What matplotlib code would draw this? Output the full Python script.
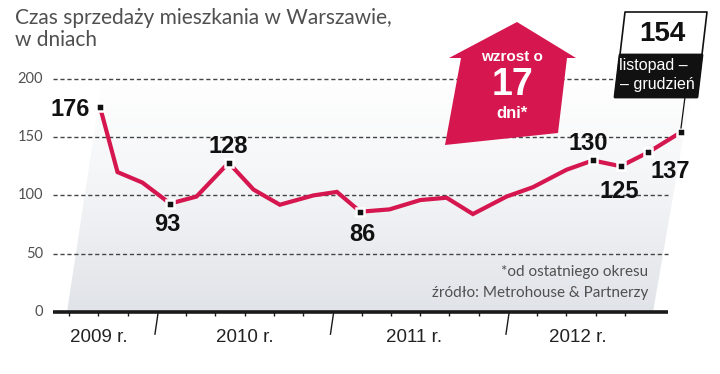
import numpy as np
import matplotlib
matplotlib.use("Agg")
import matplotlib.pyplot as plt
from matplotlib.patches import Polygon
from matplotlib.colors import LinearSegmentedColormap
from matplotlib.transforms import blended_transform_factory

# x = months counted from Jan 2009 (0 = Jan 2009), y = days on sale
months = [8.1, 9.3, 11.0, 12.9, 14.7, 16.9, 18.6, 20.4, 22.7, 24.3, 25.9, 27.9,
          30.0, 31.8, 33.6, 35.9, 37.7, 40.0, 41.8, 43.7, 45.6, 47.8]
days = [176, 120, 111, 93, 99, 128, 105, 92, 100, 103, 86, 88,
        96, 98, 84, 99, 107, 122, 130, 125, 137, 154]
marked = [0, 3, 5, 10, 18, 19, 20, 21]
yticks = [0, 50, 100, 150, 200]
year_starts = [12, 24, 36]
years = ["2009 r.", "2010 r.", "2011 r.", "2012 r."]
year_label_x = [8.0, 18.0, 29.6, 40.8]
small_ticks = [6, 8, 10, 14, 16, 18, 20, 22, 26, 28, 30, 32, 34, 38, 40, 42, 44]

title = "Czas sprzedaży mieszkania w Warszawie,\nw dniach"
note = "*od ostatniego okresu"
source = "źródło: Metrohouse & Partnerzy"

RED = "#d5164f"
INK = "#111111"

NUM = dict(family=["Liberation Sans", "DejaVu Sans"])
LIGHT = dict(family=["Lato", "DejaVu Sans"], color="#505050")

fig = plt.figure(figsize=(7.2, 3.74), dpi=100)
fig.patch.set_facecolor("white")

# background layer in pixel coordinates
bg = fig.add_axes([0, 0, 1, 1], zorder=0)
bg.set_xlim(0, 720)
bg.set_ylim(374, 0)
bg.axis("off")

# data layer
ax = fig.add_axes([0, 0, 1, 1], zorder=1)
ax.patch.set_alpha(0)
x0 = 12 - 157 / 14.625
ax.set_xlim(x0, x0 + 720 / 14.625)
y1 = 312 / 1.166
ax.set_ylim(y1 - 374 / 1.166, y1)
ax.axis("off")

# top layer (pixels) for the callouts
top = fig.add_axes([0, 0, 1, 1], zorder=2)
top.patch.set_alpha(0)
top.set_xlim(0, 720)
top.set_ylim(374, 0)
top.axis("off")

# grey gradient backdrop
cmap = LinearSegmentedColormap.from_list("g", ["#ffffff", "#f3f4f6", "#e0e3e8"])
grad = np.linspace(0, 1, 256).reshape(-1, 1)
im = bg.imshow(grad, cmap=cmap, aspect="auto", extent=(40, 700, 312, 75), origin="upper")
clip = Polygon([(67, 312), (103, 75), (694, 75), (653, 312)], closed=True,
               transform=bg.transData)
im.set_clip_path(clip)

# title
bg.text(15, 8, title, ha="left", va="top", fontsize=15, linespacing=1.15, **LIGHT)

# grid, baseline and ticks
gx0, gx1 = 12 + (53 - 157) / 14.625, 12 + (668 - 157) / 14.625
ax.hlines(yticks[1:], gx0, gx1, colors="#444444", lw=1, linestyles=(0, (3, 2)))
ax.hlines(0, gx0, gx1, colors="#1a1a1a", lw=2.6)
ax.vlines(small_ticks, -3.5, 0, colors="#1a1a1a", lw=1)
for m in year_starts:
    ax.plot([m - 0.14, m + 0.07], [-19, -1], color="#1a1a1a", lw=1)

ytr = blended_transform_factory(bg.transData, ax.transData)
for v in yticks:
    ax.text(43, v, str(v), transform=ytr, ha="right", va="center", fontsize=10.5, **LIGHT)

for xl, lab in zip(year_label_x, years):
    ax.text(xl, -21.5, lab, ha="center", va="center", fontsize=13.5, color="#222222", **NUM)

# series
ax.plot(months, days, color=RED, lw=3, solid_joinstyle="miter", solid_capstyle="butt", zorder=3)
ax.plot([months[i] for i in marked], [days[i] for i in marked], "s", color=INK,
        ms=6, mec="white", mew=1.8, zorder=4)

offsets = {0: (-10, -3, "right"), 3: (-3, -21, "center"), 5: (0, 16, "center"),
           10: (2, -23, "center"), 18: (-5, 17, "center"), 19: (-1, -25, "center"),
           20: (22, -19, "center")}
for i, (dx, dy, ha) in offsets.items():
    ax.annotate(str(days[i]), (months[i], days[i]), xytext=(dx, dy),
                textcoords="offset pixels", ha=ha, va="center",
                fontsize=17, fontweight="bold", color=INK, zorder=5, **NUM)

# footnotes
bg.text(648, 272, note, ha="right", va="center", fontsize=11, **LIGHT)
bg.text(648, 293, source, ha="right", va="center", fontsize=11, **LIGHT)

# red arrow
arrow = Polygon([(517, 22), (576, 58), (567, 58), (558, 133), (445, 145), (461, 58), (449, 58)],
                closed=True, facecolor=RED, edgecolor="none")
top.add_patch(arrow)
top.text(512, 57, "wzrost o", ha="center", va="center", color="white", fontsize=11,
         fontweight="bold", **NUM)
top.text(512, 85, "17", ha="center", va="center", color="white", fontsize=27,
         fontweight="bold", **NUM)
top.text(512, 113, "dni*", ha="center", va="center", color="white", fontsize=12,
         fontweight="bold", **NUM)

# last value callout
box = Polygon([(625, 12), (707, 12), (697, 97), (615, 97)], closed=True,
              facecolor="white", edgecolor=INK, lw=1.2, joinstyle="round")
top.add_patch(box)
dark = Polygon([(620, 55), (702, 55), (697, 97), (615, 97)], closed=True,
               facecolor=INK, edgecolor=INK, lw=2, joinstyle="round")
top.add_patch(dark)
top.plot([685, 681], [97, 128], color=INK, lw=0.9)
top.text(662, 34, str(days[-1]), ha="center", va="center", fontsize=20,
         fontweight="bold", color=INK, **NUM)
top.text(653, 65, "listopad –", ha="center", va="center", color="white", fontsize=11.5, **NUM)
top.text(657, 84, "– grudzień", ha="center", va="center", color="white", fontsize=11.5, **NUM)

fig.savefig("out.png", dpi=100, facecolor="white")
